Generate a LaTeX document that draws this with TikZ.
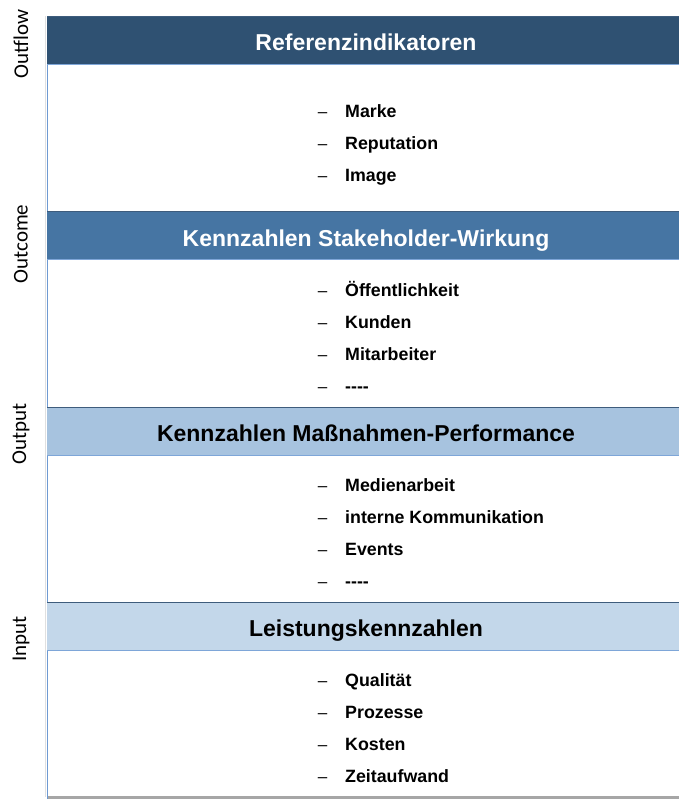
\documentclass[tikz,border=0pt]{standalone}
\usepackage{fontspec}
\setmainfont{Liberation Sans}
\newfontfamily\axisfont{Carlito}
\definecolor{barA}{HTML}{2F5172}
\definecolor{barB}{HTML}{4675A3}
\definecolor{barC}{HTML}{A7C3DF}
\definecolor{barD}{HTML}{C3D7EA}
\definecolor{edgeTop}{HTML}{3E5C7C}
\definecolor{edgeLow}{HTML}{7EA6D8}
\definecolor{axisBlue}{HTML}{6E9AD2}
\definecolor{shadowGrey}{HTML}{A6A6A6}
\begin{document}
\begin{tikzpicture}[x=1pt,y=-1pt,
  bar/.style={rectangle,inner sep=0pt,minimum width=638pt,minimum height=48pt,anchor=north west},
  title/.style={anchor=base,font=\fontsize{23}{26}\selectfont\bfseries},
  axislabel/.style={rotate=90,font=\fontsize{21}{24}\selectfont\axisfont},
  item/.style={anchor=base west,inner sep=0pt,font=\fontsize{17.8}{20}\selectfont\bfseries},
  itemdash/.style={anchor=base,inner sep=0pt,font=\fontsize{17}{20}\selectfont}
]
\useasboundingbox (0,0) rectangle (678,801);

% white panel with its left axis and bottom shadow
\fill[white] (47,16) rectangle (690,797);
\draw[line width=3pt,shadowGrey] (47,797.5) -- (690,797.5);
\draw[line width=1.2pt,black!12] (45.6,16) -- (45.6,797);
\draw[line width=1.3pt,axisBlue] (47.5,16) -- (47.5,799);

% header bars
\node[bar,fill=barA] (b1) at (47,16) {};
\node[bar,fill=barB] (b2) at (47,211) {};
\node[bar,fill=barC] (b3) at (47,407) {};
\node[bar,fill=barD] (b4) at (47,602) {};
\foreach \b in {b1,b2,b3,b4}{
  \draw[line width=0.8pt,edgeTop] (\b.north west) -- (\b.north east);
  \draw[line width=1.6pt,edgeLow] (\b.south west) -- (\b.south east);
}

% bar titles
\node[title,text=white] (t1) at (366,50) {Referenzindikatoren};
\node[title,text=white] (t2) at (366,246) {Kennzahlen Stakeholder-Wirkung};
\node[title,text=black] (t3) at (366,441) {Kennzahlen Maßnahmen-Performance};
\node[title,text=black] (t4) at (366,636) {Leistungskennzahlen};

% level names along the axis
\node[axislabel] (a1) at (21,44) {Outflow};
\node[axislabel] (a2) at (21,244) {Outcome};
\node[axislabel] (a3) at (21,434) {Output};
\node[axislabel] (a4) at (21,639) {Input};

% item lists (the placeholder hyphens are kept apart so they do not join into dashes)
\foreach \y/\txt/\nm in {117/Marke/i1, 149/Reputation/i2, 181/Image/i3,
  296/Öffentlichkeit/i4, 328/Kunden/i5, 360/Mitarbeiter/i6, 392/-{}-{}-{}-/i7,
  491/Medienarbeit/i8, 523/interne Kommunikation/i9, 555/Events/i10, 587/-{}-{}-{}-/i11,
  686/Qualität/i12, 718/Prozesse/i13, 750/Kosten/i14, 782/Zeitaufwand/i15}{
  \node[itemdash] (d\nm) at (322.5,\y) {–};
  \node[item] (\nm) at (345,\y) {\txt};
}
\end{tikzpicture}
\end{document}
